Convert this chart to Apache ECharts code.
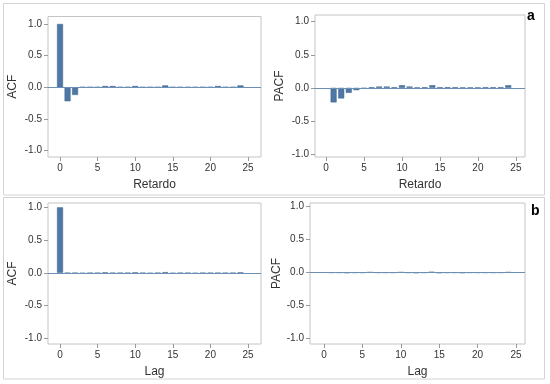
<!DOCTYPE html>
<html>
<head>
<meta charset="utf-8">
<script src="https://cdn.jsdelivr.net/npm/echarts@6/dist/echarts.min.js"></script>
<style>html,body{margin:0;padding:0;background:#fff}#c{width:550px;height:384px}</style>
</head>
<body>
<div id="c"></div>
<script>
// Lags
var lagsACF = [0,1,2,3,4,5,6,7,8,9,10,11,12,13,14,15,16,17,18,19,20,21,22,23,24];
var lagsPACF = [1,2,3,4,5,6,7,8,9,10,11,12,13,14,15,16,17,18,19,20,21,22,23,24];
// (a) Retardo
var acfA  = [1.0,-0.22,-0.12,0.005,0.005,0.005,0.02,0.02,0.005,0.005,0.02,0.005,0.005,0.005,0.03,0.005,0.005,0.005,0.005,0.005,0.005,0.02,0.005,0.005,0.03];
var pacfA = [-0.22,-0.16,-0.075,-0.035,-0.01,0.01,0.02,0.02,0.01,0.04,0.02,0.005,0.01,0.04,0.01,0.01,0.01,0.005,0.005,0.005,0.01,0.01,0.01,0.04];
// (b) Lag
var acfB  = [1.0,-0.005,-0.005,-0.01,-0.005,-0.005,0.005,-0.005,-0.005,-0.005,0.005,-0.005,-0.01,-0.005,0.01,-0.01,-0.005,-0.005,-0.01,-0.005,-0.005,-0.005,-0.005,-0.005,0.005];
var pacfB = [-0.005,-0.005,-0.01,-0.005,-0.005,0.005,-0.005,-0.005,-0.005,0.005,-0.005,-0.01,-0.005,0.01,-0.01,-0.005,-0.005,-0.01,-0.005,-0.005,-0.005,-0.005,-0.005,0.005];
var xTicks = [0,5,10,15,20,25];
var yTicks = [-1.0,-0.5,0.0,0.5,1.0];

var panels = [
  {g:{left:48,top:16.5,width:213,height:140.5}, x:[-1.6,26.73], y:[-1.1,1.118], yname:'ACF', xname:'Retardo', ygap:29, lags:lagsACF, vals:acfA},
  {g:{left:315,top:15,width:210,height:142}, x:[-1.45,26.2], y:[-1.045,1.101], yname:'PACF', xname:'Retardo', ygap:29, lags:lagsPACF, vals:pacfA},
  {g:{left:48,top:203,width:213,height:141}, x:[-1.6,26.73], y:[-1.087,1.066], yname:'ACF', xname:'Lag', ygap:29, lags:lagsACF, vals:acfB},
  {g:{left:310,top:203,width:215,height:141}, x:[-1.82,26.17], y:[-1.087,1.056], yname:'PACF', xname:'Lag', ygap:25, lags:lagsPACF, vals:pacfB}
];

var font = 'Liberation Sans, Arial, sans-serif';
var grids=[], xAxes=[], yAxes=[], series=[];
panels.forEach(function(p,i){
  grids.push(Object.assign({show:true,borderColor:'#c4c4c4',borderWidth:1,backgroundColor:'#fff'}, p.g));
  xAxes.push({type:'value',gridIndex:i,min:p.x[0],max:p.x[1],position:'bottom',
    name:p.xname,nameLocation:'middle',nameGap:22,
    nameTextStyle:{fontFamily:font,fontSize:12,color:'#333'},
    axisLine:{show:false,onZero:false},splitLine:{show:false},
    axisTick:{show:true,length:4,customValues:xTicks,lineStyle:{color:'#999'}},
    axisLabel:{customValues:xTicks,fontFamily:font,fontSize:10,color:'#333',margin:6}
  });
  yAxes.push({type:'value',gridIndex:i,min:p.y[0],max:p.y[1],position:'left',
    name:p.yname,nameLocation:'middle',nameGap:p.ygap,
    nameTextStyle:{fontFamily:font,fontSize:12,color:'#333'},
    axisLine:{show:false,onZero:false},splitLine:{show:false},
    axisTick:{show:true,length:4,customValues:yTicks,lineStyle:{color:'#999'}},
    axisLabel:{customValues:yTicks,fontFamily:font,fontSize:10,color:'#333',margin:6,
      formatter:function(v){return v.toFixed(1);}}
  });
  series.push({type:'bar',xAxisIndex:i,yAxisIndex:i,barWidth:6,
    data:p.lags.map(function(l,k){return [l,p.vals[k]];}),
    itemStyle:{color:'#4f77a3',borderColor:'#3f6690',borderWidth:0.5},
    silent:true,
    markLine:{silent:true,symbol:'none',label:{show:false},
      lineStyle:{color:'#6b8fb5',type:'solid',width:1},
      data:[{yAxis:0}]}
  });
});

var chart = echarts.init(document.getElementById('c'),null,{renderer:'canvas'});
chart.setOption({
  animation:false,
  backgroundColor:'#fff',
  grid:grids, xAxis:xAxes, yAxis:yAxes, series:series,
  graphic:[
    {type:'rect',shape:{x:3.5,y:3.5,width:541,height:191.5},style:{fill:'none',stroke:'#d4d4d4',lineWidth:1},z:-10},
    {type:'rect',shape:{x:3.5,y:197.5,width:541,height:181.5},style:{fill:'none',stroke:'#d4d4d4',lineWidth:1},z:-10},
    {type:'text',left:527,top:9,style:{text:'a',font:'bold 14px '+font,fill:'#000'}},
    {type:'text',left:531,top:204,style:{text:'b',font:'bold 14px '+font,fill:'#000'}}
  ]
});
</script>
</body>
</html>
